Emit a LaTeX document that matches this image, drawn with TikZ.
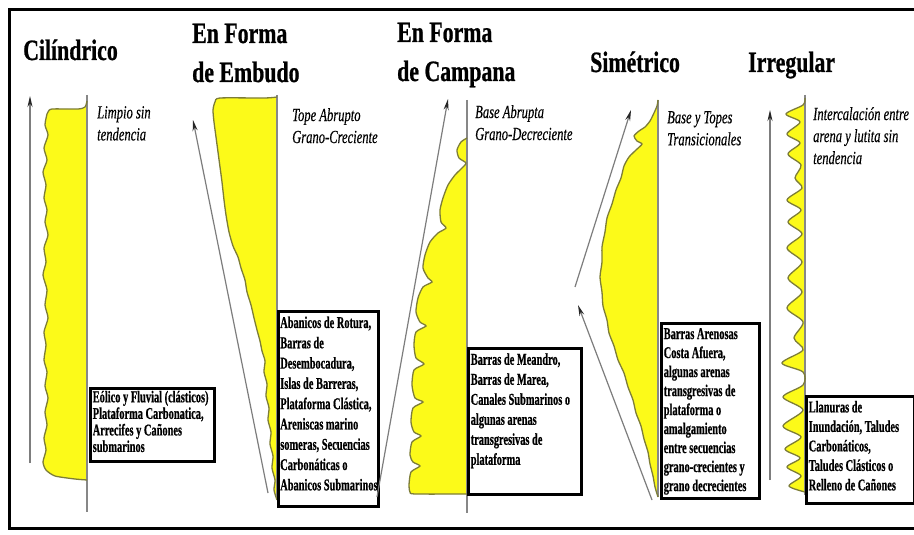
\documentclass[tikz,border=0pt]{standalone}
\usepackage{fontspec}
\setmainfont[FakeStretch=0.73]{Liberation Serif}
\newfontfamily\titlefont[FakeStretch=0.74,FakeBold=0.7]{Liberation Serif}
\newfontfamily\boxfont[FakeStretch=0.63,FakeBold=0.6]{Liberation Serif}
\newfontfamily\labfont[FakeStretch=0.68,FakeBold=0.3]{Liberation Serif}
\usetikzlibrary{arrows.meta}
\definecolor{yel}{RGB}{252,250,25}
\definecolor{olivec}{RGB}{125,125,55}
\definecolor{lgray}{RGB}{135,135,135}
\definecolor{agray}{RGB}{125,125,125}
\newcommand{\bxtext}[4]{\parbox[c][#2][t]{#1}{\boxfont\bfseries\fontsize{16.5}{#3}\selectfont\begin{tabular}[t]{@{}l@{}}#4\end{tabular}}}
\begin{document}
\begin{tikzpicture}[x=1pt,y=-1pt,
  title/.style={inner sep=0pt, anchor=base west, font=\titlefont\bfseries\fontsize{29.5}{36}\selectfont},
  lab/.style={inner sep=0pt, anchor=north west, align=left, font=\labfont\itshape\fontsize{18.5}{22}\selectfont},
  tbox/.style={draw=black, line width=2.5pt, inner sep=0pt, anchor=north west, fill=white},
  yfill/.style={fill=yel},
  curve/.style={draw=olivec, line width=1.3pt},
  baseln/.style={draw=lgray, line width=1.1pt},
  arr/.style={draw=agray, line width=1.2pt, -{Stealth[length=11pt,width=5pt,color=black!85]}},
]
\useasboundingbox (0,0) rectangle (914,535);
\fill[white] (0,0) rectangle (914,535);
% frame
\draw[line width=3pt] (925,10) -- (9,10) -- (9,528) -- (925,528);

% titles
\node[title] (t1) at (23,60) {Cilíndrico};
\node[title] (t2a) at (192,43) {En Forma};
\node[title] (t2b) at (192,82) {de Embudo};
\node[title] (t3a) at (397,42) {En Forma};
\node[title] (t3b) at (397,81) {de Campana};
\node[title] (t4) at (590,72) {Simétrico};
\node[title] (t5) at (748,72) {Irregular};

% ---------- column 1 : cylinder
\fill[yfill] plot[smooth,tension=.4] coordinates {(87,101)(85,107)(78,109)(52,109)(48,112)(47,114)(45,125)(48,135)(44,148)(47,160)(43,172)(46,185)(44,198)(47,210)(45,222)(48,235)(44,248)(46,262)(43,275)(47,290)(45,305)(48,318)(44,332)(46,345)(44,360)(47,372)(45,386)(48,398)(45,412)(47,425)(44,438)(46,450)(43,462)(46,470)(55,476)(75,479)(87,480)} -- cycle;
\draw[baseln] (87,95) -- (87,512);
\draw[curve] plot[smooth,tension=.4] coordinates {(87,101)(85,107)(78,109)(52,109)(48,112)(47,114)(45,125)(48,135)(44,148)(47,160)(43,172)(46,185)(44,198)(47,210)(45,222)(48,235)(44,248)(46,262)(43,275)(47,290)(45,305)(48,318)(44,332)(46,345)(44,360)(47,372)(45,386)(48,398)(45,412)(47,425)(44,438)(46,450)(43,462)(46,470)(55,476)(75,479)(87,480)};
\coordinate (a1s) at (30,463);
\coordinate (a1e) at (30,96);
\draw[arr] (a1s) -- (a1e);
\node[lab] (l1) at (97,106) {Limpio sin\\tendencia};
\node[tbox, minimum width=124pt, minimum height=73pt] (b1) at (89,387) {\bxtext{119pt}{68pt}{16.5pt}{Eólico y Fluvial (clásticos)\\Plataforma Carbonatica,\\Arrecifes y Cañones\\submarinos}};

% ---------- column 2 : funnel
\fill[yfill] plot[smooth,tension=.4] coordinates {(277,97)(265,98)(220,98)(215,102)(213,110)(214,122)(216,137)(218,152)(220,167)(222,182)(224,200)(226,215)(229,232)(233,246)(238,257)(241,268)(245,280)(247,292)(251,305)(254,318)(257,330)(260,341)(262,351)(265,361)(264,372)(267,384)(266,396)(269,408)(268,420)(271,432)(270,444)(273,456)(272,468)(275,480)(274,490)(277,500)} -- cycle;
\draw[baseln] (277,95) -- (277,500);
\draw[curve] plot[smooth,tension=.4] coordinates {(277,97)(265,98)(220,98)(215,102)(213,110)(214,122)(216,137)(218,152)(220,167)(222,182)(224,200)(226,215)(229,232)(233,246)(238,257)(241,268)(245,280)(247,292)(251,305)(254,318)(257,330)(260,341)(262,351)(265,361)(264,372)(267,384)(266,396)(269,408)(268,420)(271,432)(270,444)(273,456)(272,468)(275,480)(274,490)(277,500)};
\coordinate (a2s) at (268,493);
\coordinate (a2e) at (193,120);
\draw[arr] (a2s) -- (a2e);
\node[lab] (l2) at (292,108) {Tope Abrupto\\Grano-Creciente};
\node[tbox, minimum width=100pt, minimum height=195pt] (b2) at (277,310) {\bxtext{96pt}{190pt}{20.3pt}{Abanicos de Rotura,\\Barras de\\Desembocadura,\\Islas de Barreras,\\Plataforma Clástica,\\Areniscas marino\\someras, Secuencias\\Carbonáticas o\\Abanicos Submarinos}};

% ---------- column 3 : bell
\fill[yfill] plot[smooth,tension=.4] coordinates {(467,138)(461,142)(457,150)(459,158)(466,163)(462,168)(455,175)(448,185)(443,198)(440,210)(441,222)(446,228)(438,233)(430,242)(425,255)(423,268)(428,278)(432,282)(423,287)(418,298)(416,312)(420,322)(426,326)(416,332)(414,345)(416,358)(424,364)(414,370)(412,385)(415,398)(423,402)(413,408)(411,422)(414,432)(421,436)(412,442)(410,455)(413,462)(420,466)(411,472)(409,485)(410,492)(415,494)(467,494)} -- cycle;
\draw[baseln] (467,100) -- (467,513);
\draw[curve] plot[smooth,tension=.4] coordinates {(467,138)(461,142)(457,150)(459,158)(466,163)(462,168)(455,175)(448,185)(443,198)(440,210)(441,222)(446,228)(438,233)(430,242)(425,255)(423,268)(428,278)(432,282)(423,287)(418,298)(416,312)(420,322)(426,326)(416,332)(414,345)(416,358)(424,364)(414,370)(412,385)(415,398)(423,402)(413,408)(411,422)(414,432)(421,436)(412,442)(410,455)(413,462)(420,466)(411,472)(409,485)(410,492)(415,494)(467,494)};
\coordinate (a3s) at (377,497);
\coordinate (a3e) at (448,99);
\draw[arr] (a3s) -- (a3e);
\node[lab] (l3) at (475,105) {Base Abrupta\\Grano-Decreciente};
\node[tbox, minimum width=113pt, minimum height=146pt] (b3) at (467,347) {\bxtext{108pt}{141pt}{20pt}{Barras de Meandro,\\Barras de Marea,\\Canales Submarinos o\\algunas arenas\\transgresivas de\\plataforma}};

% ---------- column 4 : symmetric
\fill[yfill] plot[smooth,tension=.4] coordinates {(658,100)(657,106)(654,113)(650,121)(645,127)(639,131)(634,136)(637,141)(642,144)(636,150)(629,157)(624,166)(621,178)(616,190)(612,204)(607,218)(605,232)(602,247)(602,262)(600,277)(602,292)(603,306)(607,320)(609,333)(614,346)(618,360)(624,373)(628,387)(633,400)(636,413)(641,426)(644,439)(648,452)(650,464)(653,476)(655,487)(658,497)} -- cycle;
\draw[baseln] (658,100) -- (658,497);
\draw[curve] plot[smooth,tension=.4] coordinates {(658,100)(657,106)(654,113)(650,121)(645,127)(639,131)(634,136)(637,141)(642,144)(636,150)(629,157)(624,166)(621,178)(616,190)(612,204)(607,218)(605,232)(602,247)(602,262)(600,277)(602,292)(603,306)(607,320)(609,333)(614,346)(618,360)(624,373)(628,387)(633,400)(636,413)(641,426)(644,439)(648,452)(650,464)(653,476)(655,487)(658,497)};
\coordinate (a4s) at (575,287);
\coordinate (a4e) at (631,110);
\draw[arr] (a4s) -- (a4e);
\coordinate (a5s) at (652,500);
\coordinate (a5e) at (578,305);
\draw[arr] (a5s) -- (a5e);
\node[lab] (l4) at (667,111) {Base y Topes\\Transicionales};
\node[tbox, minimum width=98pt, minimum height=175pt] (b4) at (660,322) {\bxtext{93pt}{170pt}{19pt}{Barras Arenosas\\Costa Afuera,\\algunas arenas\\transgresivas de\\plataforma o\\amalgamiento\\entre secuencias\\grano-crecientes y\\grano decrecientes}};

% ---------- column 5 : irregular
\fill[yfill] plot[smooth,tension=.5] coordinates {(805,98)(803,105)(786,114)(800,122)(787,134)(800,143)(788,154)(801,165)(795,178)(802,188)(787,200)(801,210)(788,222)(802,234)(787,248)(802,262)(788,278)(802,292)(787,308)(803,322)(794,338)(803,350)(782,363)(803,372)(803,385)(783,397)(803,410)(783,426)(801,437)(785,449)(800,458)(787,467)(801,476)(789,486)(805,492)} -- cycle;
\draw[baseln] (805,95) -- (805,495);
\draw[curve] plot[smooth,tension=.5] coordinates {(805,98)(803,105)(786,114)(800,122)(787,134)(800,143)(788,154)(801,165)(795,178)(802,188)(787,200)(801,210)(788,222)(802,234)(787,248)(802,262)(788,278)(802,292)(787,308)(803,322)(794,338)(803,350)(782,363)(803,372)(803,385)(783,397)(803,410)(783,426)(801,437)(785,449)(800,458)(787,467)(801,476)(789,486)(805,492)};
\coordinate (a6s) at (770,480);
\coordinate (a6e) at (770,110);
\draw[arr] (a6s) -- (a6e);
\node[lab] (l5) at (813,107) {Intercalación entre\\arena y lutita sin\\tendencia};
\node[tbox, minimum width=108pt, minimum height=107pt] (b5) at (805,395) {\bxtext{103pt}{102pt}{19.5pt}{Llanuras de\\Inundación, Taludes\\Carbonáticos,\\Taludes Clásticos o\\Relleno de Cañones}};
\end{tikzpicture}
\end{document}
